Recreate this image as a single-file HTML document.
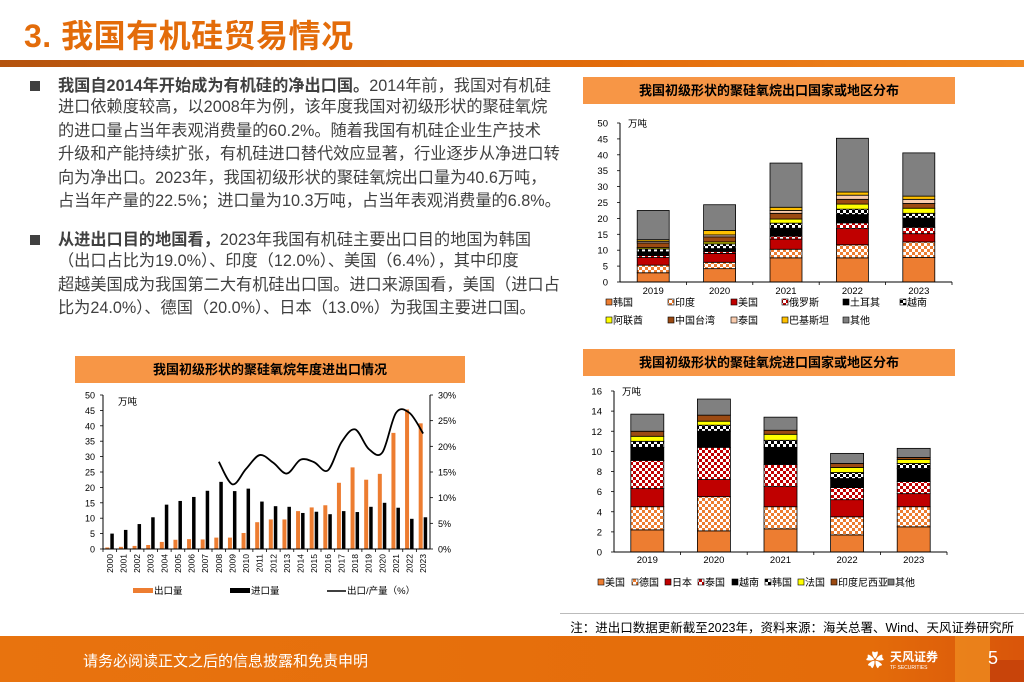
<!DOCTYPE html>
<html><head><meta charset="utf-8">
<style>
body{margin:0;width:1024px;height:682px;overflow:hidden;background:#fff;font-family:"Liberation Sans","Noto Sans CJK SC",sans-serif;position:relative}
.abs{position:absolute}
.title{left:24px;top:11px;font-size:32px;color:#E36C0A;font-weight:bold;letter-spacing:0.5px}
.bar{left:0;top:60px;width:1024px;height:7px;background:linear-gradient(90deg,#B4530E,#E36C0A 60%,#F08A24)}
.txt{left:58px;font-size:16.2px;color:#404040;white-space:nowrap;line-height:20px}
.bul{left:30px;width:10px;height:10px;background:#404040}
.hdr{background:#F79646;font-size:13px;font-weight:bold;color:#000;text-align:center;line-height:27px;height:27px}
svg text{font-family:"Liberation Sans","Noto Sans CJK SC",sans-serif}
</style></head><body>
<div class="abs title">3. 我国有机硅贸易情况</div>
<div class="abs bar"></div>

<div class="abs bul" style="top:81px"></div>
<div class="abs txt" style="top:76px"><b>我国自2014年开始成为有机硅的净出口国。</b>2014年前，我国对有机硅<br>
<span style="line-height:23.5px">进口依赖度较高，以2008年为例，该年度我国对初级形状的聚硅氧烷</span><br>
<span style="line-height:23.5px">的进口量占当年表观消费量的60.2%。随着我国有机硅企业生产技术</span><br>
<span style="line-height:23.5px">升级和产能持续扩张，有机硅进口替代效应显著，行业逐步从净进口转</span><br>
<span style="line-height:23.5px">向为净出口。2023年，我国初级形状的聚硅氧烷出口量为40.6万吨，</span><br>
<span style="line-height:23.5px">占当年产量的22.5%；进口量为10.3万吨，占当年表观消费量的6.8%。</span></div>
<div class="abs bul" style="top:235px"></div>
<div class="abs txt" style="top:230px"><b>从进出口目的地国看，</b>2023年我国有机硅主要出口目的地国为韩国<br>
<span style="line-height:23.5px">（出口占比为19.0%）、印度（12.0%）、美国（6.4%），其中印度</span><br>
<span style="line-height:23.5px">超越美国成为我国第二大有机硅出口国。进口来源国看，美国（进口占</span><br>
<span style="line-height:23.5px">比为24.0%）、德国（20.0%）、日本（13.0%）为我国主要进口国。</span></div>

<div class="abs hdr" style="left:583px;top:77px;width:372px">我国初级形状的聚硅氧烷出口国家或地区分布</div>
<div class="abs hdr" style="left:583px;top:349px;width:372px">我国初级形状的聚硅氧烷进口国家或地区分布</div>
<div class="abs hdr" style="left:75px;top:356px;width:390px">我国初级形状的聚硅氧烷年度进出口情况</div>

<svg id="chart" class="abs" style="left:0;top:0" width="1024" height="682">
<defs>
<pattern id="pOr" width="6" height="6" patternUnits="userSpaceOnUse"><rect width="6" height="6" fill="#fff"/><rect width="3" height="3" fill="#ED7D31"/><rect x="3" y="3" width="3" height="3" fill="#ED7D31"/></pattern>
<pattern id="pRd" width="6" height="6" patternUnits="userSpaceOnUse"><rect width="6" height="6" fill="#fff"/><rect width="3" height="3" fill="#C00000"/><rect x="3" y="3" width="3" height="3" fill="#C00000"/></pattern>
<pattern id="pBk" width="6" height="6" patternUnits="userSpaceOnUse"><rect width="6" height="6" fill="#fff"/><rect width="3" height="3" fill="#000"/><rect x="3" y="3" width="3" height="3" fill="#000"/></pattern>
</defs>
</svg>

<div class="abs" style="left:560px;top:613px;width:464px;height:1px;background:#bbb"></div>
<div class="abs" style="right:10px;top:617px;font-size:12.5px;color:#000">注：进出口数据更新截至2023年，资料来源：海关总署、Wind、天风证券研究所</div>
<div class="abs" style="left:0;top:636px;width:1024px;height:46px;background:linear-gradient(90deg,#E8730E,#E46C0A 85%,#D9550A)"></div>
<div class="abs" style="left:955px;top:636px;width:35px;height:46px;background:#EE8A1E;opacity:.8"></div>
<div class="abs" style="left:990px;top:660px;width:34px;height:22px;background:#C8440A"></div>
<div class="abs" style="left:83px;top:650px;font-size:15px;color:#fff">请务必阅读正文之后的信息披露和免责申明</div>
<div class="abs" style="left:866px;top:647px;font-size:18px;color:#fff">✿</div>
<div class="abs" style="left:890px;top:648px;font-size:12px;color:#fff;font-weight:bold">天风证券<div style="font-size:5px;font-weight:normal">TF SECURITIES</div></div>
<div class="abs" style="left:988px;top:648px;font-size:18px;color:#fff">5</div>

<script>
// ---- Chart A: export destinations
const expYears = ['2019','2020','2021','2022','2023'];
const expSeries = ['韩国','印度','美国','俄罗斯','土耳其','越南','阿联酋','中国台湾','泰国','巴基斯坦','其他'];
const expKorea = [2.9,4.2,7.6,7.6,7.7];
const expIndia = [2.4,2.0,2.7,4.1,4.9];
const expUSA = [2.4,2.8,3.2,5.1,2.6];
const expRussia = [0.6,0.6,0.9,1.8,2.0];
const expTurkey = [1.2,0.9,2.5,2.6,2.9];
const expVietnam = [0.9,1.5,1.6,1.7,1.5];
const expUAE = [0.4,0.6,1.3,1.6,1.6];
const expTaiwan = [1.5,1.6,1.8,1.5,1.5];
const expThailand = [0.5,0.6,0.9,1.3,1.3];
const expPakistan = [0.5,1.4,1.0,1.0,1.0];
const expOther = [9.2,8.1,13.9,16.9,13.6];
const expTicks = [0,5,10,15,20,25,30,35,40,45,50];

// ---- Chart B: import sources
const impYears = ['2019','2020','2021','2022','2023'];
const impSeries = ['美国','德国','日本','泰国','越南','韩国','法国','印度尼西亚','其他'];
const impUSA = [2.2,2.1,2.3,1.7,2.5];
const impGermany = [2.3,3.4,2.2,1.8,2.0];
const impJapan = [1.8,1.7,2.0,1.7,1.3];
const impThailand = [2.8,3.2,2.2,1.2,1.2];
const impVietnam = [1.3,1.6,1.7,0.9,1.3];
const impKorea = [0.6,0.6,0.7,0.6,0.5];
const impFrance = [0.5,0.4,0.6,0.5,0.4];
const impIndonesia = [0.5,0.6,0.4,0.4,0.2];
const impOther = [1.7,1.6,1.3,1.0,0.9];
const impTicks = [0,2,4,6,8,10,12,14,16];

// ---- Chart C: annual trade
const tradeYears = ['2000','2001','2002','2003','2004','2005','2006','2007','2008','2009','2010','2011','2012','2013','2014','2015','2016','2017','2018','2019','2020','2021','2022','2023'];
const exportVol = [0.5,0.7,1.0,1.3,2.3,3.0,3.2,3.1,3.7,3.7,5.2,8.7,9.6,9.6,12.3,13.5,14.2,21.5,26.5,22.5,24.4,37.7,45.3,40.8];
const importVol = [5.0,6.2,8.1,10.3,14.4,15.6,16.9,18.9,21.8,18.8,19.6,15.4,13.9,13.7,11.7,12.1,11.3,12.3,12.0,13.7,15.0,13.4,9.8,10.3];
const ratioPct = [null,null,null,null,null,null,null,null,17.0,12.6,15.6,18.3,16.8,14.7,17.4,16.9,15.3,20.8,23.3,19.5,18.8,26.5,26.5,22.5];
const leftTicks = [0,5,10,15,20,25,30,35,40,45,50];
const rightTicks = [0,5,10,15,20,25,30];

const svg = document.getElementById('chart');
const NS = 'http://www.w3.org/2000/svg';
function mk(tag, at, parent){const e=document.createElementNS(NS,tag);for(const k in at)e.setAttribute(k,at[k]);(parent||svg).appendChild(e);return e;}
function txt(x,y,s,anchor,size,parent){const t=mk('text',{x:x,y:y,'text-anchor':anchor||'start','font-size':size||10,fill:'#000'},parent);t.textContent=s;return t;}

function stacked(cfg){
  const g=mk('g',{});
  
  
  const yS=v=>cfg.y0-(v/cfg.max)*(cfg.y0-cfg.y1);
  const cw=(cfg.x1-cfg.x0)/cfg.cats.length;
  const xC=i=>cfg.x0+cw*(i+0.5);
  cfg.ticks.forEach(t=>{const tl=txt(cfg.x0-12,yS(t)+3.5,String(t),'end',9.5,g);
    
    
    mk('line',{x1:cfg.x0-3,x2:cfg.x0,y1:yS(t),y2:yS(t),stroke:'#000','stroke-width':0.8},g);});
  txt(cfg.x0+8,yS(cfg.ticks[cfg.ticks.length-1])+4,'万吨','start',9.5,g);
  cfg.cats.forEach((c,i)=>{
    let acc=0;
    cfg.data.forEach((arr,s)=>{
      const v=arr[i];const r=mk('rect',{x:xC(i)-cfg.bw/2,y:yS(acc+v),width:cfg.bw,height:yS(acc)-yS(acc+v),fill:cfg.fills[s],stroke:'#000','stroke-width':0.8},g);
      
      
      acc+=v;});
    const l=txt(xC(i),cfg.labY,c,'middle',9.5,g);
    
    
    mk('line',{x1:cfg.x0+cw*(i+1),x2:cfg.x0+cw*(i+1),y1:cfg.y0,y2:cfg.y0+3,stroke:'#000','stroke-width':0.8},g);
  });
  mk('line',{x1:cfg.x0,x2:cfg.x0,y1:cfg.y1,y2:cfg.y0,stroke:'#000','stroke-width':1},g);
  mk('line',{x1:cfg.x0,x2:cfg.x1,y1:cfg.y0,y2:cfg.y0,stroke:'#000','stroke-width':1},g);
  cfg.legend.forEach((pos,s)=>{
    mk('rect',{x:pos[0],y:pos[1]-7,width:6,height:6,fill:cfg.fills[s],stroke:'#000','stroke-width':0.6},g);
    const lt=txt(pos[0]+7,pos[1],cfg.series[s],'start',10,g);
    
    
  });
}

stacked({name:'export-destination-chart',cats:expYears,series:expSeries,
  data:[expKorea,expIndia,expUSA,expRussia,expTurkey,expVietnam,expUAE,expTaiwan,expThailand,expPakistan,expOther],
  fills:['#ED7D31','url(#pOr)','#C00000','url(#pRd)','#000','url(#pBk)','#FFFF00','#9C4A12','#F8CBAD','#FFC000','#808080'],
  x0:620,x1:952,y0:282,y1:123,max:50,bw:32,ticks:expTicks,labY:294,
  legend:[[606,306],[668,306],[731,306],[782,306],[843,306],[900,306],[606,324],[668,324],[731,324],[782,324],[843,324]]});

stacked({name:'import-source-chart',cats:impYears,series:impSeries,
  data:[impUSA,impGermany,impJapan,impThailand,impVietnam,impKorea,impFrance,impIndonesia,impOther],
  fills:['#ED7D31','url(#pOr)','#C00000','url(#pRd)','#000','url(#pBk)','#FFFF00','#9C4A12','#808080'],
  x0:614,x1:947,y0:552,y1:391,max:16,bw:33,ticks:impTicks,labY:563,
  legend:[[598,586],[632,586],[665,586],[698,586],[732,586],[765,586],[798,586],[831,586],[888,586]]});

// Chart C
(function(){
  const g=mk('g',{});
  
  
  const x0=103,x1=430,y0=549,y1=395;
  const yL=v=>y0-v/50*(y0-y1), yR=v=>y0-v/30*(y0-y1);
  const cw=(x1-x0)/tradeYears.length, xC=i=>x0+cw*(i+0.5);
  leftTicks.forEach(t=>{txt(x0-8,yL(t)+3.5,String(t),'end',9,g);mk('line',{x1:x0-3,x2:x0,y1:yL(t),y2:yL(t),stroke:'#000','stroke-width':0.8},g);});
  rightTicks.forEach(t=>{txt(x1+8,yR(t)+3.5,t+'%','start',9,g);mk('line',{x1:x1,x2:x1+3,y1:yR(t),y2:yR(t),stroke:'#000','stroke-width':0.8},g);});
  txt(x0+15,yL(50)+10,'万吨','start',9.5,g);
  tradeYears.forEach((y,i)=>{
    const e=mk('rect',{x:xC(i)-4.5,y:yL(exportVol[i]),width:4,height:yL(0)-yL(exportVol[i]),fill:'#ED7D31'},g);
    
    
    const m=mk('rect',{x:xC(i)+0.5,y:yL(importVol[i]),width:3.5,height:yL(0)-yL(importVol[i]),fill:'#000'},g);
    
    
    const t=txt(0,0,y,'end',8.5,g);
    t.setAttribute('transform','translate('+(xC(i)+3)+','+(y0+5)+') rotate(-90)');
    
    
    mk('line',{x1:x0+cw*i,x2:x0+cw*i,y1:y0,y2:y0+3,stroke:'#000','stroke-width':0.8},g);
  });
  mk('line',{x1:x0,x2:x0,y1:y1,y2:y0,stroke:'#000'},g);
  mk('line',{x1:x1,x2:x1,y1:y1,y2:y0,stroke:'#000'},g);
  mk('line',{x1:x0,x2:x1,y1:y0,y2:y0,stroke:'#000'},g);
  const pts=[];ratioPct.forEach((v,i)=>{if(v!==null)pts.push([xC(i),yR(v)]);});
  let d='M'+pts[0][0]+','+pts[0][1];
  for(let i=0;i<pts.length-1;i++){
    const p0=pts[Math.max(0,i-1)],p1=pts[i],p2=pts[i+1],p3=pts[Math.min(pts.length-1,i+2)];
    const c1=[p1[0]+(p2[0]-p0[0])/6,p1[1]+(p2[1]-p0[1])/6],c2=[p2[0]-(p3[0]-p1[0])/6,p2[1]-(p3[1]-p1[1])/6];
    d+=' C'+c1+' '+c2+' '+p2;
  }
  const line=mk('path',{d:d,fill:'none',stroke:'#000','stroke-width':1.8},g);
  
  
  mk('rect',{x:133,y:588,width:20,height:5,fill:'#ED7D31'},g);
  txt(154,594,'出口量','start',9.5,g);
  mk('rect',{x:230,y:588,width:20,height:5,fill:'#000'},g);
  txt(251,594,'进口量','start',9.5,g);
  mk('line',{x1:327,x2:346,y1:591,y2:591,stroke:'#000','stroke-width':1.5},g);
  txt(347,594,'出口/产量（%）','start',9.5,g);
})();
</script>
</body></html>
